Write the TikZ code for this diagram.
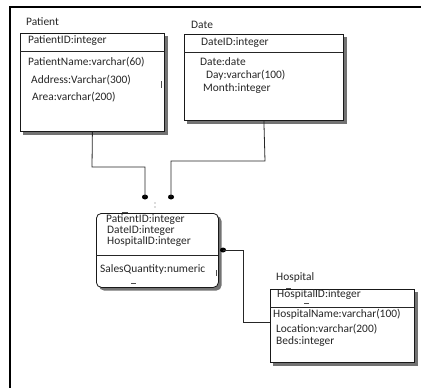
\documentclass[tikz,border=0pt]{standalone}
\usepackage{fontspec}
\usetikzlibrary{shapes.geometric}
\setmainfont{Carlito}
\begin{document}
\begin{tikzpicture}[x=1pt,y=-1pt,
  txt/.style={anchor=west,inner sep=0pt,font=\fontsize{11.4}{13}\selectfont,text=black!85},
  ent/.style={draw=black!90,line width=0.8pt,fill=white,anchor=north west,inner sep=0pt},
  shadow/.style={fill=black!55},
  conn/.style={draw=black!85,line width=0.8pt},
  dot/.style={fill=black,ellipse,inner sep=0pt,minimum width=6pt,minimum height=5pt},
  stray/.style={draw=black!70,line width=0.6pt}]
\useasboundingbox (0,0) rectangle (421,388);
% frame
\draw[line width=1.1pt] (10,388) -- (10,7) -- (421,7);
% shadows
\fill[shadow] (23,36) rectangle (167.5,134.5);
\fill[shadow] (187,37) rectangle (346.5,123.5);
\fill[shadow,rounded corners=5pt] (99,216) rectangle (221.5,290.5);
\fill[shadow] (273,292) rectangle (417.5,365.5);
% entity boxes
\node[ent,minimum width=144pt,minimum height=98pt] (patient) at (20,33) {};
\node[ent,minimum width=159pt,minimum height=86pt] (date) at (184,34) {};
\node[ent,rounded corners=5pt,minimum width=122pt,minimum height=74pt] (sales) at (96,213) {};
\node[ent,minimum width=144pt,minimum height=73pt] (hospital) at (270,289) {};
% dividers
\draw[conn] (20,51) -- (164,51);
\draw[conn] (184,52) -- (343,52);
\draw[conn] (96,255) -- (218,255);
\draw[conn] (270,307) -- (414,307);
% labels
\node[txt] (lpat) at (26,22) {Patient};
\node[txt] (ldat) at (191,25) {Date};
\node[txt] (lhos) at (276,277) {Hospital};
% patient attributes
\node[txt] (p1) at (28,41) {PatientID:integer};
\node[txt] (p2) at (28,62) {PatientName:varchar(60)};
\node[txt] (p3) at (31,80) {Address:Varchar(300)};
\node[txt] (p4) at (32,97) {Area:varchar(200)};
% date attributes
\node[txt] (d1) at (201,43) {DateID:integer};
\node[txt] (d2) at (200,62) {Date:date};
\node[txt] (d3) at (206,75) {Day:varchar(100)};
\node[txt] (d4) at (203,89) {Month:integer};
% sales attributes
\node[txt] (s1) at (106,220) {PatientID:integer};
\node[txt] (s2) at (107,231) {DateID:integer};
\node[txt] (s3) at (107,242) {HospitalID:integer};
\node[txt] (s4) at (100,269) {SalesQuantity:numeric};
% hospital attributes
\node[txt] (h1) at (277,295) {HospitalID:integer};
\node[txt] (h2) at (273,314) {HospitalName:varchar(100)};
\node[txt] (h3) at (276,329) {Location:varchar(200)};
\node[txt] (h4) at (276,342) {Beds:integer};
% connectors
\node[dot] (pd) at (145,197) {};
\node[dot] (dd) at (171,197) {};
\node[dot] (sd) at (223,250) {};
\coordinate (hc) at (270,322);
\draw[conn] (patient.south) -- (92,167) -| (pd.center);
\draw[conn] (date.south) -- (265,161) -| (dd.center);
\draw[conn] (sd.center) -- (243,250) |- (hc);
% stray marks
\draw[stray] (161,81) -- (161,88);
\fill[black!60] (155,203) circle (0.6pt) (155,207) circle (0.6pt);
\draw[stray] (122,212) -- (128,212);
\draw[stray] (131,283) -- (136,283);
\draw[stray] (216,270) -- (216,276);
\draw[stray] (286,288) -- (291,288);
\draw[stray] (304,303.5) -- (309,303.5);
\end{tikzpicture}
\end{document}
